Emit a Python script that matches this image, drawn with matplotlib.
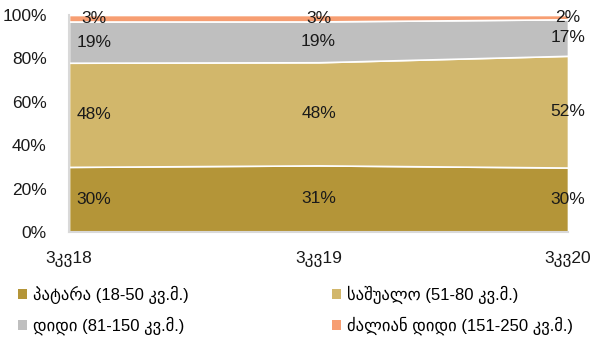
import matplotlib
matplotlib.use("Agg")
import matplotlib.pyplot as plt
import numpy as np
from matplotlib.patches import Patch

plt.rcParams['font.family'] = ['Liberation Sans', 'DejaVu Sans']

quarters = ["3კვ18", "3კვ19", "3კვ20"]
series_names = [
    "პატარა (18-50 კვ.მ.)",
    "საშუალო (51-80 კვ.მ.)",
    "დიდი (81-150 კვ.მ.)",
    "ძალიან დიდი (151-250 კვ.მ.)",
]
small = [30, 31, 30]
medium = [48, 48, 52]
large = [19, 19, 17]
very_large = [3, 3, 2]
colors = ["#B49538", "#D2B76B", "#BFBFBF", "#F79E72"]

values = np.array([small, medium, large, very_large], dtype=float)
shares = values / values.sum(axis=0)
x = np.arange(len(quarters))

fig = plt.figure(figsize=(5.98, 3.45), dpi=100)
ax = fig.add_axes([69 / 598, 1 - 232 / 345, (568 - 69) / 598, (232 - 15) / 345])

ax.stackplot(x, shares, colors=colors, edgecolor="white", linewidth=1.2)

# data labels in the middle of each band
bottoms = np.vstack([np.zeros(len(x)), np.cumsum(shares, axis=0)[:-1]])
offsets = [0.1, 0.0, 0.0]
for i in range(len(series_names)):
    for j in range(len(x)):
        ax.text(x[j] + offsets[j], bottoms[i, j] + shares[i, j] / 2,
                f"{values[i, j]:.0f}%", ha="center", va="center",
                fontsize=12.5, color="#1a1a1a", clip_on=False)

ax.set_xlim(0, 2)
ax.set_ylim(0, 1)
ax.set_yticks(np.arange(0, 1.01, 0.2))
ax.set_yticklabels([f"{v}%" for v in range(0, 101, 20)])
ax.set_xticks(x)
ax.set_xticklabels(quarters)
ax.tick_params(axis="both", length=0, labelsize=12.5, colors="#1a1a1a")
ax.tick_params(axis="y", pad=16)
ax.tick_params(axis="x", pad=14)
for side in ["top", "right"]:
    ax.spines[side].set_visible(False)
for side in ["left", "bottom"]:
    ax.spines[side].set_color("#D9D9D9")
    ax.spines[side].set_linewidth(1.5)

# legend is filled row by row in the reference
order = [0, 2, 1, 3]
handles = [Patch(facecolor=colors[k], edgecolor="none") for k in order]
labels = [series_names[k] for k in order]
fig.legend(handles, labels, loc="lower left", bbox_to_anchor=(0.005, -0.015),
           ncol=2, frameon=False, fontsize=12, handlelength=0.55, handleheight=0.55,
           handletextpad=0.35, columnspacing=8.6, labelspacing=0.75)

fig.savefig("out.png", dpi=100)
